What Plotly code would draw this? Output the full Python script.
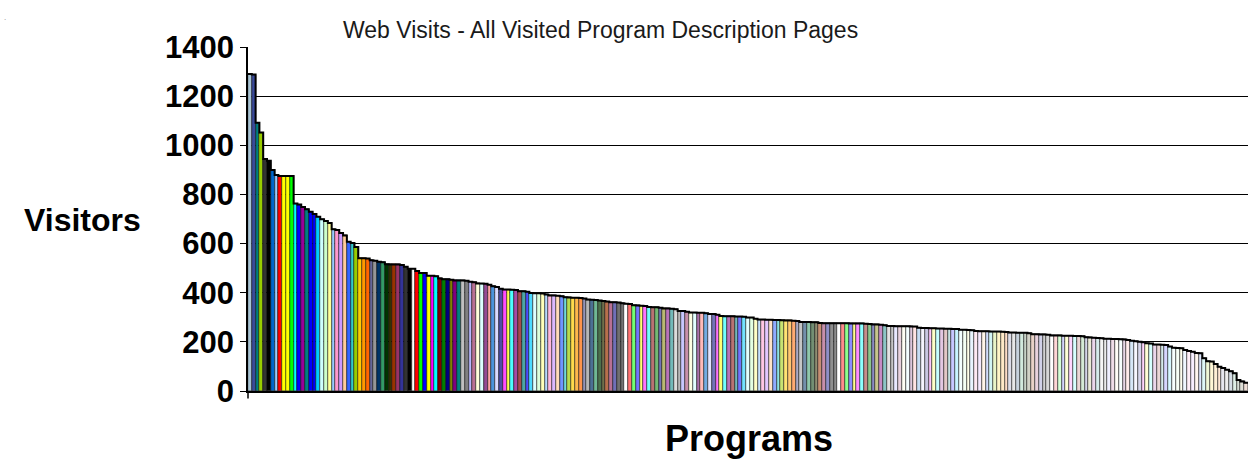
import plotly.graph_objects as go

# Visitors per program page, sorted descending
visitors = [1290, 1288, 1092, 1052, 944, 937, 899, 879, 875, 875, 875, 875, 763, 759, 749, 740,
            729, 720, 709, 699, 692, 684, 658, 655, 643, 633, 607, 602, 586, 540, 540, 539, 532,
            530, 526, 524, 516, 515, 515, 515, 513, 506,
            498, 498, 488, 480, 480, 469, 469, 467, 458, 455, 455, 453, 450, 450, 450, 449, 445,
            443, 438, 437, 436, 432, 426, 423, 416, 413, 413, 412, 411, 406, 406, 404, 399, 398,
            398, 397, 393, 389, 389, 388, 386, 382, 381, 380, 380, 378, 376, 372, 371, 370, 368,
            366, 364, 361, 361, 360, 357, 355, 354, 349, 348, 347, 346, 342, 341, 341, 339, 336,
            336, 335, 333, 326, 326, 323, 319, 319, 318, 318, 316, 313, 313, 310, 305, 304, 304,
            304, 303, 303, 302, 299, 299, 294, 291, 291, 290, 290, 289, 289, 288, 287, 287, 286,
            285, 281, 281, 281, 280, 280, 277, 276, 276, 276, 276, 276, 276, 276, 275, 275, 275,
            275, 274, 273, 271, 271, 270, 268, 265, 265, 264, 264, 264, 264, 263, 262, 257, 256,
            256, 255, 255, 254, 254, 253, 253, 252, 252, 249, 249, 248, 247, 244, 243, 243, 243,
            242, 242, 242, 241, 240, 238, 238, 237, 237, 237, 235, 231, 231, 230, 230, 229, 226,
            226, 226, 225, 225, 225, 224, 224, 223, 219, 218, 217, 216, 215, 213, 213, 212, 212,
            211, 210, 208, 204, 202, 200, 198, 194, 193, 189, 189, 188, 187, 181, 176, 175, 174,
            167, 163, 160, 155, 154, 133, 121, 120, 110, 99, 94, 86, 80, 72, 45, 39, 34]

N = len(visitors)
programs = list(range(N))

y_ticks = [0, 200, 400, 600, 800, 1000, 1200, 1400]

# Excel 56-colour palette
palette = ["#000000", "#FFFFFF", "#FF0000", "#00FF00", "#0000FF", "#FFFF00", "#FF00FF", "#00FFFF",
           "#800000", "#008000", "#000080", "#808000", "#800080", "#008080", "#C0C0C0", "#808080",
           "#9999FF", "#993366", "#FFFFCC", "#CCFFFF", "#660066", "#FF8080", "#0066CC", "#CCCCFF",
           "#000080", "#FF00FF", "#FFFF00", "#00FFFF", "#800080", "#800000", "#008080", "#0000FF",
           "#00CCFF", "#CCFFFF", "#CCFFCC", "#FFFF99", "#99CCFF", "#FF99CC", "#CC99FF", "#FFCC99",
           "#3366FF", "#33CCCC", "#99CC00", "#FFCC00", "#FF9900", "#FF6600", "#666699", "#969696",
           "#003366", "#339966", "#003300", "#333300", "#993300", "#993366", "#333399", "#333333"]
first_colors = ["#A8C4D4", "#3A4A9A", "#008080", "#99CC00", "#333333", "#000000", "#0066CC",
                "#99CCFF", "#FF0000", "#FFFF00", "#FFFF00", "#00FF00", "#00FFFF", "#0000FF",
                "#990099", "#008080", "#0000FF"]


def tint(hex_color, amount):
    """Blend a colour with white (amount = share of the colour), like a pattern fill."""
    r, g, b = (int(hex_color[i:i + 2], 16) for i in (1, 3, 5))
    r = round(255 + (r - 255) * amount)
    g = round(255 + (g - 255) * amount)
    b = round(255 + (b - 255) * amount)
    return f"#{r:02X}{g:02X}{b:02X}"


bar_colors = []
for k in range(N):
    if k < 17:
        c, rnd, idx = first_colors[k], 0, 0
    elif k < 42:
        c, rnd, idx = palette[k + 14], 0, 0
    else:
        j = k - 42
        rnd, idx = j // 56 + 1, j % 56
        c = palette[idx]
    if k < 58:
        bar_colors.append(c)
    else:
        if rnd == 1:
            s = 0.7
        elif rnd == 2:
            s = 0.55
        elif rnd == 3 and idx < 16:
            s = 0.45
        elif rnd == 3:
            s = 0.22
        else:
            s = 0.16
        bar_colors.append(tint(c, s))

font_family = "Liberation Sans, Arial, sans-serif"

fig = go.Figure()
fig.add_trace(go.Bar(
    x=programs, y=visitors,
    marker=dict(color=bar_colors, line=dict(color="#000000", width=0.5)),
    hoverinfo="x+y", showlegend=False,
))
# thick outline along the tops of the bars
step_x = [p - 0.5 for p in programs] + [programs[-1] + 0.5]
step_y = visitors + [visitors[-1]]
fig.add_trace(go.Scatter(x=step_x, y=step_y, mode="lines",
                         line=dict(color="#000000", width=2, shape="hv"),
                         hoverinfo="skip", showlegend=False))

fig.update_layout(
    width=1248, height=461,
    margin=dict(l=248, r=0, t=47, b=70),
    paper_bgcolor="#FFFFFF", plot_bgcolor="#FFFFFF",
    bargap=0,
    font=dict(family=font_family, color="#000000"),
    xaxis=dict(range=[-0.5, N - 0.5], showticklabels=False, showgrid=False, zeroline=False,
               showline=True, linecolor="#000000", linewidth=1.5, ticks=""),
    yaxis=dict(range=[0, 1400], tickvals=y_ticks, showgrid=True, gridcolor="#000000", gridwidth=1,
               zeroline=False, showline=True, linecolor="#000000", linewidth=1.5,
               ticks="outside", ticklen=6, tickcolor="#000000", tickwidth=1.2,
               tickfont=dict(family=font_family, size=31, color="#000000", weight=700)),
    annotations=[
        dict(text="Web Visits - All Visited Program Description Pages", xref="paper", yref="paper",
             x=0.352, y=1.049, xanchor="center", yanchor="middle", showarrow=False,
             font=dict(family=font_family, size=23, color="#1a1a1a")),
        dict(text="Visitors", xref="paper", yref="paper", x=-0.166, y=0.497,
             xanchor="center", yanchor="middle", showarrow=False,
             font=dict(family=font_family, size=32, color="#000000", weight=700)),
        dict(text="Programs", xref="paper", yref="paper", x=0.501, y=-0.137,
             xanchor="center", yanchor="middle", showarrow=False,
             font=dict(family=font_family, size=36, color="#000000", weight=700)),
        dict(text=".", xref="paper", yref="paper", x=-0.243, y=1.085,
             xanchor="center", yanchor="middle", showarrow=False,
             font=dict(family=font_family, size=8, color="#888888")),
    ],
    shapes=[dict(type="line", xref="paper", yref="paper", x0=0, x1=0, y0=0, y1=-0.022,
                 line=dict(color="#000000", width=1.5))],
)

fig.write_html("out.html", config={"displayModeBar": False},
               post_script="document.body.style.margin='0px';")
